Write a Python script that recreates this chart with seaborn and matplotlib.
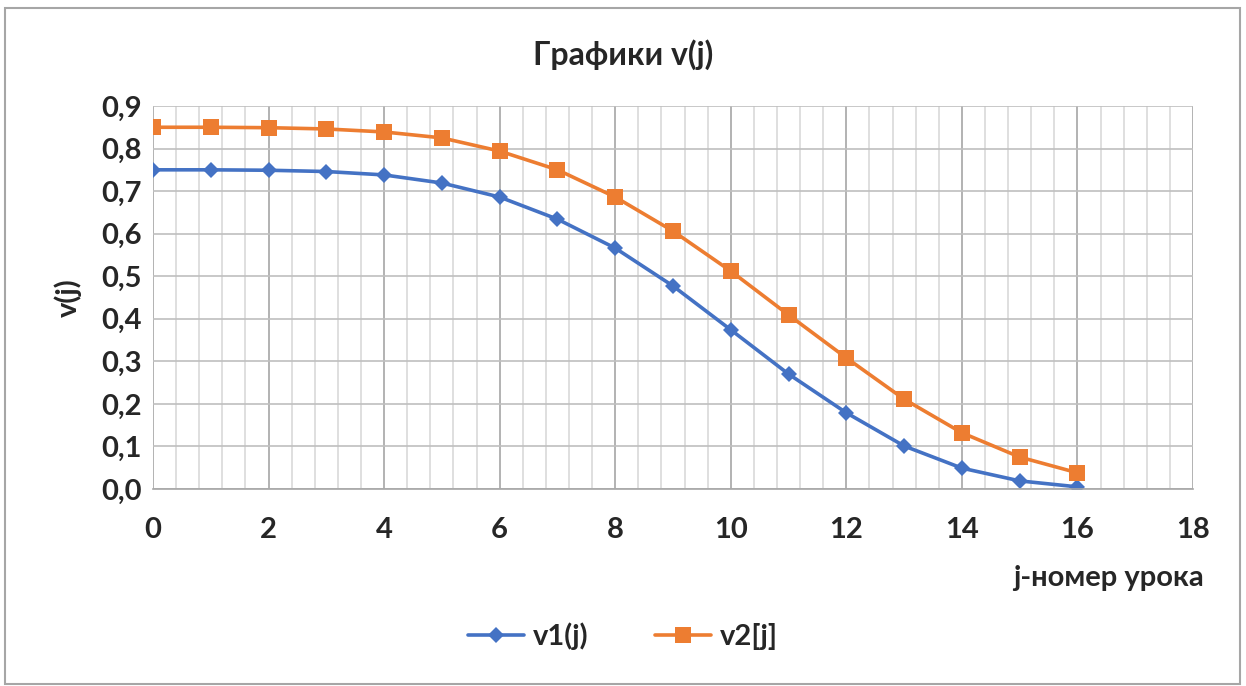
import numpy as np
import pandas as pd
import seaborn as sns
import matplotlib.pyplot as plt
from matplotlib.patches import Rectangle
from matplotlib.ticker import MultipleLocator, FuncFormatter

# values
j = list(range(17))
v1 = [0.750, 0.750, 0.749, 0.746, 0.738, 0.719, 0.686, 0.634, 0.566,
      0.477, 0.374, 0.270, 0.179, 0.101, 0.049, 0.019, 0.005]
v2 = [0.850, 0.850, 0.849, 0.846, 0.839, 0.825, 0.794, 0.750, 0.686,
      0.606, 0.512, 0.409, 0.308, 0.211, 0.132, 0.075, 0.038]
series_names = ["v1(j)", "v2[j]"]

sns.set_style("white")
plt.rcParams['font.family'] = ['Lato', 'DejaVu Sans']
plt.rcParams['font.weight'] = 'bold'
FS = 21

df = pd.DataFrame({"j": j + j,
                   "v": v1 + v2,
                   "series": [series_names[0]] * len(j) + [series_names[1]] * len(j)})

fig = plt.figure(figsize=(12.46, 6.86), dpi=100)
ax = fig.add_axes([0.1228, 0.2872, 0.8347, 0.5583])

palette = {series_names[0]: "#4472C4", series_names[1]: "#ED7D31"}
markers = {series_names[0]: "D", series_names[1]: "s"}
sns.lineplot(data=df, x="j", y="v", hue="series", style="series",
             palette=palette, markers=markers, dashes=False,
             linewidth=2.6, markersize=11, markeredgewidth=0, ax=ax)
# make diamonds a little smaller like excel
for line in ax.lines:
    if line.get_marker() == "D":
        line.set_markersize(8.5)

ax.set_xlim(0, 18)
ax.set_ylim(0, 0.9)
ax.xaxis.set_major_locator(MultipleLocator(2))
ax.xaxis.set_minor_locator(MultipleLocator(0.4))
ax.yaxis.set_major_locator(MultipleLocator(0.1))
ax.yaxis.set_major_formatter(FuncFormatter(lambda v, p: f"{v:.1f}".replace(".", ",")))

ax.grid(which="major", axis="x", color="#A6A6A6", linewidth=1.2)
ax.grid(which="minor", axis="x", color="#D9D9D9", linewidth=1.2)
ax.grid(which="major", axis="y", color="#BFBFBF", linewidth=1.2)
ax.set_axisbelow(True)

for s in ["top", "right", "left"]:
    ax.spines[s].set_visible(False)
ax.spines["bottom"].set_color("#A6A6A6")
ax.spines["bottom"].set_linewidth(1.2)
ax.tick_params(axis="x", which="major", direction="out", length=10, width=1.2,
               color="#A6A6A6", labelsize=FS, pad=10)
ax.tick_params(axis="x", which="minor", length=0)
ax.tick_params(axis="y", length=0, labelsize=FS, pad=8)
for lab in ax.get_xticklabels() + ax.get_yticklabels():
    lab.set_fontweight("bold")

ax.set_xlabel("")
ax.set_ylabel("v(j)", fontsize=FS, fontweight="bold", labelpad=14)
fig.text(0.966, 0.157, "j-номер урока", ha="right", va="center",
         fontsize=FS, fontweight="bold")
fig.text(0.5, 0.921, "Графики v(j)", ha="center", va="center",
         fontsize=FS + 2, fontweight="bold")

leg = ax.legend(loc="center", bbox_to_anchor=(0.5, 0.073), bbox_transform=fig.transFigure,
                ncol=2, frameon=False, fontsize=FS, handlelength=1.9, handletextpad=0.3,
                columnspacing=2.3)
for t in leg.get_texts():
    t.set_fontweight("bold")

fig.patches.append(Rectangle((0.004, 0.003), 0.991, 0.985, transform=fig.transFigure,
                             fill=False, edgecolor="#A6A6A6", linewidth=1.5))

fig.savefig("out.png", dpi=100)
